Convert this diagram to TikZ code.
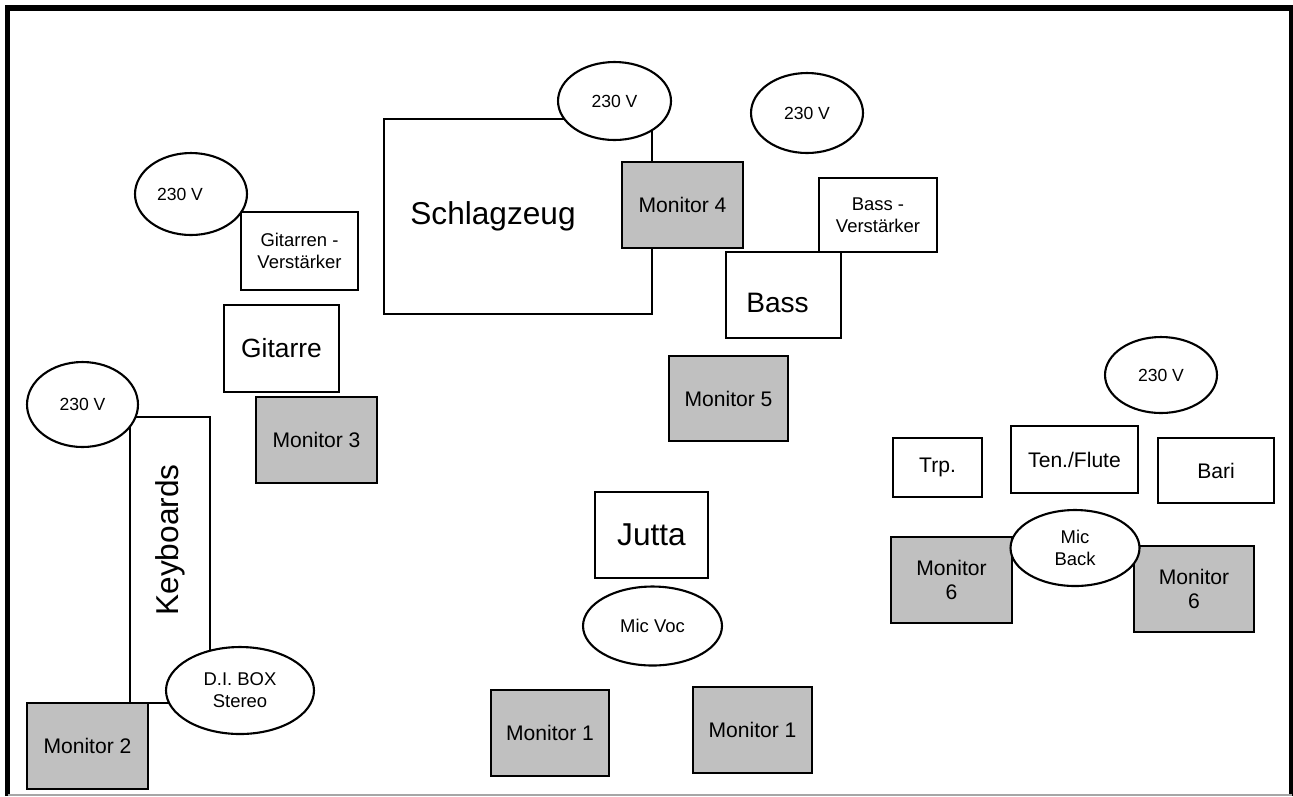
\documentclass[tikz,border=0pt]{standalone}
\usepackage{fontspec}
\setmainfont{Liberation Sans}
\usetikzlibrary{shapes.geometric}

\begin{document}
\begin{tikzpicture}[x=0.02cm,y=-0.02cm,line width=1.2pt]
  \tikzstyle{box}=[draw,rectangle,fill=white,inner sep=0pt,align=center,font=\fontsize{10.5}{12.5}\selectfont]
  \tikzstyle{monitor}=[box,fill={rgb,255:red,192;green,192;blue,192},font=\fontsize{12}{14}\selectfont,minimum width=2.42cm,minimum height=1.72cm]
  \tikzstyle{power}=[draw,ellipse,fill=white,inner sep=0pt,align=center,font=\fontsize{10}{12}\selectfont]
  \tikzstyle{horn}=[box,font=\fontsize{12}{14}\selectfont]

  \useasboundingbox (0,0) rectangle (1293,796);

  % stage frame
  \draw[line width=3.2pt] (7.5,796) -- (7.5,8) -- (1292,8) -- (1292,796);
  \draw[gray!70,line width=0.8pt] (7.5,795) -- (1292,795);

  % back line
  \node[box,minimum width=5.36cm,minimum height=3.90cm,
        label={[xshift=-0.5cm,font=\fontsize{18}{20}\selectfont]center:Schlagzeug}]
        (drums) at (518,216.5) {};
  \node[monitor] (mon4) at (682.5,205) {Monitor 4};
  \node[power,minimum width=2.26cm,minimum height=1.56cm] (pwrB) at (614.5,101) {230 V};
  \node[power,minimum width=2.24cm,minimum height=1.60cm] (pwrC) at (807,113) {230 V};

  \node[box,minimum width=2.36cm,minimum height=1.48cm] (bassamp) at (878,215) {Bass -\\Verst\"arker};
  \node[box,minimum width=2.30cm,minimum height=1.72cm,
        label={[xshift=-0.12cm,yshift=-0.16cm,font=\fontsize{16}{18}\selectfont]center:Bass}]
        (bass) at (783.5,295) {};
  \node[monitor,minimum width=2.38cm,minimum height=1.70cm] (mon5) at (728.5,398.5) {Monitor 5};

  % guitar
  \node[box,minimum width=2.34cm,minimum height=1.56cm] (gitamp) at (299.5,251) {Gitarren -\\Verst\"arker};
  \node[power,minimum width=2.24cm,minimum height=1.64cm,
        label={[xshift=-0.22cm,font=\fontsize{10}{12}\selectfont]center:230 V}]
        (pwrA) at (191,194) {};
  \node[box,minimum width=2.30cm,minimum height=1.74cm,font=\fontsize{15}{17}\selectfont] (guitar) at (281.5,348.5) {Gitarre};
  \node[monitor] (mon3) at (316.5,440) {Monitor 3};

  % keys
  \node[box,minimum width=1.60cm,minimum height=5.72cm,
        label={[yshift=0.4cm,rotate=90,font=\fontsize{18}{20}\selectfont]center:Keyboards}]
        (keys) at (170,560) {};
  \node[power,minimum width=2.22cm,minimum height=1.70cm] (pwrD) at (82.5,404.5) {230 V};
  \node[monitor] (mon2) at (87.5,746) {Monitor 2};
  \node[power,minimum width=2.96cm,minimum height=1.74cm,font=\fontsize{10.5}{12.5}\selectfont] (dibox) at (240,690.5) {D.I. BOX\\Stereo};

  % vocals
  \node[box,minimum width=2.26cm,minimum height=1.72cm,font=\fontsize{18}{20}\selectfont] (singer) at (651.5,535) {Jutta};
  \node[power,minimum width=2.78cm,minimum height=1.58cm,font=\fontsize{10.5}{12.5}\selectfont] (micvoc) at (652.5,626) {Mic Voc};
  \node[monitor,minimum width=2.36cm] (mon1a) at (550,733) {Monitor 1};
  \node[monitor,minimum width=2.38cm] (mon1b) at (752.5,730) {Monitor 1};

  % horns
  \node[power,minimum width=2.24cm,minimum height=1.52cm] (pwrE) at (1161,375) {230 V};
  \node[horn,minimum width=1.78cm,minimum height=1.18cm] (trumpet) at (937.5,467.5) {Trp.};
  \node[horn,minimum width=2.54cm,minimum height=1.34cm] (tenor) at (1074.5,459.5) {Ten./Flute};
  \node[horn,minimum width=2.32cm,minimum height=1.30cm] (bari) at (1216,470.5) {Bari};
  \node[monitor] (mon6a) at (951.5,580) {Monitor\\6};
  \node[monitor,minimum width=2.40cm] (mon6b) at (1194,589) {Monitor\\6};
  \node[power,minimum width=2.58cm,minimum height=1.52cm,font=\fontsize{10.5}{12.5}\selectfont] (micback) at (1075,548) {Mic\\Back};
\end{tikzpicture}
\end{document}
